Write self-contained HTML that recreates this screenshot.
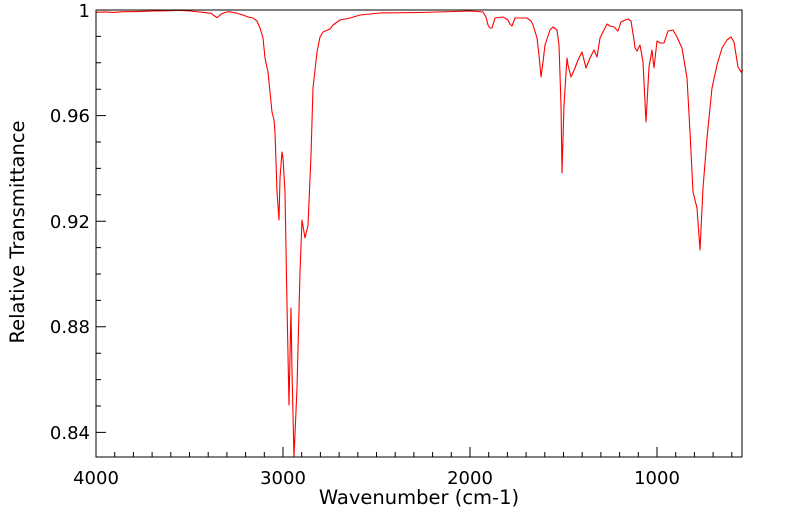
<!DOCTYPE html>
<html><head><meta charset="utf-8"><style>
html,body{margin:0;padding:0;background:#fff;}
svg{display:block;font-family:"DejaVu Sans","Liberation Sans",sans-serif;}
</style></head><body>
<svg width="799" height="516" viewBox="0 0 799 516" xmlns="http://www.w3.org/2000/svg">
<rect x="0" y="0" width="799" height="516" fill="#fff"/>
<g stroke="#000" stroke-width="1">
<path d="M114.7,457v-5M133.4,457v-5M152.1,457v-5M170.8,457v-5M189.5,457v-5M208.2,457v-5M226.9,457v-5M245.6,457v-5M264.3,457v-5M301.7,457v-5M320.4,457v-5M339.1,457v-5M357.8,457v-5M376.5,457v-5M395.2,457v-5M413.9,457v-5M432.6,457v-5M451.3,457v-5M488.7,457v-5M507.4,457v-5M526.1,457v-5M544.8,457v-5M563.5,457v-5M582.2,457v-5M600.9,457v-5M619.6,457v-5M638.3,457v-5M675.7,457v-5M694.4,457v-5M713.1,457v-5M731.8,457v-5"/>
<path d="M283,457v-10M470,457v-10M657,457v-10"/>
<path d="M96,115.6h10M96,221.2h10M96,326.8h10M96,432.4h10"/>
<path d="M96,36.4h5M96,62.8h5M96,89.2h5M96,142h5M96,168.4h5M96,194.8h5M96,247.6h5M96,274h5M96,300.4h5M96,353.2h5M96,379.6h5M96,406h5"/>
</g>
<polyline fill="none" stroke="#ff0000" stroke-width="1.1" stroke-linejoin="round" points="
96,12.3 105,11.9 114,12.4 123,11.7 135,11.6 145,11.3 153,11 165,10.8 179,10.3 190,11 203,12.3 211,13.3 214,15.5 217,17.7 221,14.3 225,12.5 229,11.7 236,13 243,15 248,17 253,18 257,21 260,28 263,38 265,58 268,72 272,112 274,120 275,132 277,192 279,220 280,178 282,152 283,158 285,192 287,305 289,405 291,308 292,372 294,457 297,388 300,272 302,220 305,238 308,225 311,155 313,88 317,52 320,37 323,32 330,29 333,25 340,20 350,18 360,15 380,13 420,12.5 470,11 483,12 486,17 488,25 490,28 492,28 495,18 503,17 508,20 510,24 512,26 515,18 527,18 531,21 533,25 537,38 539,55 541,77 543,62 545,45 550,30 553,27 557,30 559,45 561,105 562,173 564,105 567,58 568,65 571,77 575,68 578,60 582,52 586,68 590,58 594,50 597,57 600,38 607,24 610,26 614,27 616,29 618,31 621,22 625,20 628,19 631,21 634,40 635,48 637,51 640,45 643,62 646,122 649,67 652,50 654,68 657,41 660,43 664,43 668,31 673,30 677,37 682,48 687,78 690,132 693,192 697,208 700,250 703,188 707,138 712,88 717,65 722,48 727,40 731,37 734,42 738,67 741,72 743,70"/>
<rect x="96" y="10" width="646" height="447" fill="none" stroke="#000" stroke-width="1"/>
<g font-size="18" fill="#000" text-anchor="middle">
<text x="96" y="484">4000</text>
<text x="283" y="484">3000</text>
<text x="470" y="484">2000</text>
<text x="657" y="484">1000</text>
</g>
<text x="419" y="504" font-size="19.5" text-anchor="middle" fill="#000">Wavenumber (cm-1)</text>
<g font-size="18" fill="#000" text-anchor="end">
<text x="90" y="17">1</text>
<text x="90" y="122">0.96</text>
<text x="90" y="228">0.92</text>
<text x="90" y="333">0.88</text>
<text x="90" y="439">0.84</text>
</g>
<text x="24" y="232" font-size="19.5" text-anchor="middle" transform="rotate(-90 24 232)">Relative Transmittance</text>
</svg>
</body></html>
